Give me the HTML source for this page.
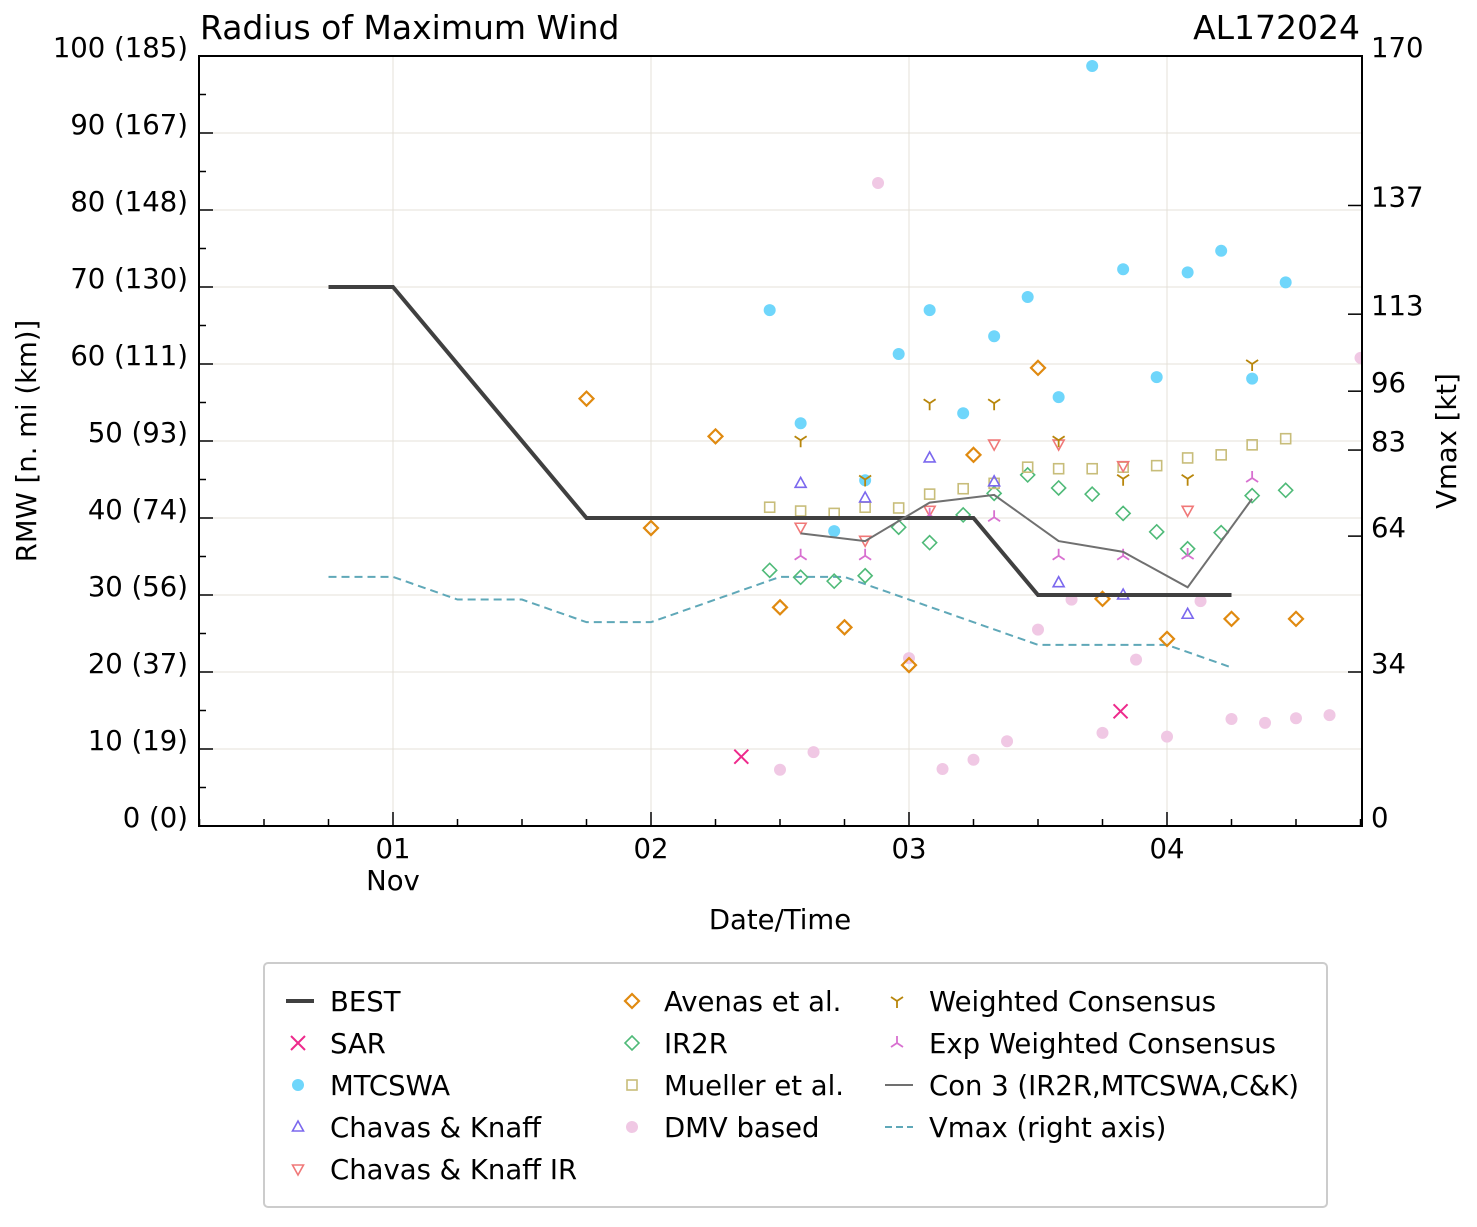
<!DOCTYPE html>
<html><head><meta charset="utf-8"><style>
body{margin:0;background:#fff;}
svg text{font-family:"DejaVu Sans","Liberation Sans",sans-serif;fill:#000;}
</style></head><body>
<svg id="c" width="1477" height="1222" xmlns="http://www.w3.org/2000/svg"></svg>
<script>
const bestT=[-0.25,0,0.75,2.25,2.5,3.25];
const bestV=[70,70,40,40,30,30];
const vmaxT=[-0.25,0,0.25,0.5,0.75,1,1.25,1.5,1.75,2,2.25,2.5,2.75,3,3.25];
const vmaxV=[55,55,50,50,45,45,50,55,55,50,45,40,40,40,35];
const con3T=[1.58,1.83,2.08,2.33,2.58,2.83,3.08,3.33];
const con3V=[38,37,42,43,37,35.6,31,42.5];
const mtcT=[1.46,1.58,1.71,1.83,1.96,2.08,2.21,2.33,2.46,2.58,2.71,2.83,2.96,3.08,3.21,3.33,3.46];
const mtcV=[67,52.3,38.3,44.9,61.3,67,53.6,63.6,68.7,55.7,98.7,72.3,58.3,71.9,74.7,58.1,70.6];
const sarT=[1.35,2.82];
const sarV=[9,14.9];
const aveT=[0.75,1,1.25,1.5,1.75,2,2.25,2.5,2.75,3,3.25,3.5];
const aveV=[55.5,38.7,50.6,28.4,25.8,20.9,48.2,59.5,29.5,24.3,26.9,26.9];
const ir2T=[1.46,1.58,1.71,1.83,1.96,2.08,2.21,2.33,2.46,2.58,2.71,2.83,2.96,3.08,3.21,3.33,3.46];
const ir2V=[33.2,32.3,31.8,32.5,38.8,36.8,40.4,43.2,45.6,43.9,43.1,40.6,38.2,36,38.1,42.9,43.6];
const mueV=[41.4,40.9,40.6,41.4,41.3,43.1,43.8,44.5,46.6,46.4,46.4,46.6,46.8,47.8,48.2,49.5,50.3];
const dmvT=[1.5,1.63,1.88,2,2.13,2.25,2.38,2.5,2.63,2.75,2.88,3,3.13,3.25,3.38,3.5,3.63,3.75];
const dmvV=[7.3,9.6,83.5,21.8,7.4,8.6,11,25.5,29.4,12.1,21.6,11.6,29.2,13.9,13.4,14,14.4,60.8];
const ckT=[1.58,1.83,2.08,2.33,2.58,2.83,3.08];
const ckV=[44.5,42.6,47.8,44.7,31.6,30,27.5];
const ckirV=[38.8,37.1,41,49.6,49.6,46.8,41];
const wcT=[1.58,1.83,2.08,2.33,2.58,2.83,3.08,3.33];
const wcV=[50.1,45,54.9,54.9,50.1,45.1,45.1,60];
const ewcV=[35.1,35.1,40.4,40.1,35.1,35.1,35.2,45.2];
const dayLabels=["01","02","03","04"];
const vmaxTicks=[0,34,64,83,96,113,137,170];

const L=199,R=1362,T=56,B=826;
const FS=27.5;
const X=t=>393+t*258;
const Y=v=>B-v*(B-T)/100;
const YV=v=>B-v*(B-T)/170;
const svg=document.getElementById('c');
const NS='http://www.w3.org/2000/svg';
function el(tag,attrs,parent){const e=document.createElementNS(NS,tag);for(const k in attrs)e.setAttribute(k,attrs[k]);(parent||svg).appendChild(e);return e;}
function txt(s,x,y,anchor,size,parent){const e=el('text',{x:x,y:y,'text-anchor':anchor,'font-size':size},parent);e.textContent=s;return e;}

const grid=el('g',{});


for(let v=10;v<100;v+=10)el('line',{x1:L,x2:R,y1:Y(v),y2:Y(v),stroke:'#e4e0d8','stroke-width':1},grid);
for(let d=0;d<4;d++)el('line',{x1:X(d),x2:X(d),y1:T,y2:B,stroke:'#e4e0d8','stroke-width':1},grid);

const ax=el('g',{stroke:'#000','stroke-width':1.5});


for(let v=0;v<=100;v+=5){const maj=v%10==0;el('line',{x1:L,x2:L+(maj?14:7),y1:Y(v),y2:Y(v)},ax);}
for(let t=-0.75;t<=3.76;t+=0.25){const maj=Math.abs(t-Math.round(t))<0.01;el('line',{x1:X(t),x2:X(t),y1:B,y2:B-(maj?14:7)},ax);}
vmaxTicks.forEach(v=>el('line',{x1:R,x2:R-14,y1:YV(v),y2:YV(v)},ax));

for(let v=0;v<=100;v+=10){const km=Math.round(v*1.852);const e=txt(v+' ('+km+')',188,Y(v)+1,'end',FS);}
dayLabels.forEach((s,i)=>{const e=txt(s,X(i),858,'middle',FS);});
{const e=txt('Nov',X(0),890,'middle',FS);}
vmaxTicks.forEach(v=>{const e=txt(String(v),1371,YV(v)+1,'start',FS);});
{const e=txt('Radius of Maximum Wind',200,39,'start',33);}
{const e=txt('AL172024',1360,39,'end',33);}
{const e=txt('Date/Time',780,929,'middle',FS);}
{const e=txt('RMW [n. mi (km)]',0,0,'middle',FS);e.setAttribute('transform','translate(36,441) rotate(-90)');}
{const e=txt('Vmax [kt]',0,0,'middle',FS);e.setAttribute('transform','translate(1456,441) rotate(-90)');}

function marker(type,x,y,g){
  const c={sar:'#ee2a8c',mtc:'#6fd6fb',ave:'#e08a10',ir2:'#4fba78',mue:'#c8bd7a',dmv:'#f0c8e4',ck:'#7b68ee',ckir:'#f07878',wc:'#b8860b',ewc:'#d870d0'}[type];
  const a={fill:'none',stroke:c,'stroke-width':1.6};
  if(type=='mtc'||type=='dmv'){el('circle',{cx:x,cy:y,r:6,fill:c},g);}
  else if(type=='sar'){el('path',{d:`M${x-7} ${y-7}L${x+7} ${y+7}M${x-7} ${y+7}L${x+7} ${y-7}`,stroke:c,'stroke-width':2},g);}
  else if(type=='ave'||type=='ir2'){el('path',Object.assign({d:`M${x} ${y-7}L${x+7} ${y}L${x} ${y+7}L${x-7} ${y}Z`},a,{'stroke-width':type=='ave'?2.2:1.6}),g);}
  else if(type=='mue'){el('rect',Object.assign({x:x-5,y:y-5,width:10,height:10},a),g);}
  else if(type=='ck'){el('path',Object.assign({d:`M${x} ${y-6}L${x+5.5} ${y+4}L${x-5.5} ${y+4}Z`},a),g);}
  else if(type=='ckir'){el('path',Object.assign({d:`M${x} ${y+6}L${x+5.5} ${y-4}L${x-5.5} ${y-4}Z`},a),g);}
  else if(type=='wc'){el('path',{d:`M${x} ${y}L${x} ${y+7}M${x} ${y}L${x-6} ${y-4}M${x} ${y}L${x+6} ${y-4}`,stroke:c,'stroke-width':1.8,fill:'none'},g);}
  else if(type=='ewc'){el('path',{d:`M${x} ${y}L${x} ${y-7}M${x} ${y}L${x-6} ${y+4}M${x} ${y}L${x+6} ${y+4}`,stroke:c,'stroke-width':1.8,fill:'none'},g);}
}
const clip=el('clipPath',{id:'pc'});el('rect',{x:L,y:T,width:R-L,height:B-T},clip);
const plot=el('g',{'clip-path':'url(#pc)'});


function series(name,type,ts,vs){const g=el('g',{},plot);ts.forEach((t,i)=>marker(type,X(t),Y(vs[i]),g));}
function line(name,ts,vs,yf,attrs){const p=el('polyline',Object.assign({points:ts.map((t,i)=>X(t)+','+yf(vs[i])).join(' '),fill:'none'},attrs),plot);}
line('vmax-line',vmaxT,vmaxV,YV,{stroke:'#5fa8b8','stroke-width':2,'stroke-dasharray':'8,5'});
series('ir2r-series','ir2',ir2T,ir2V);
series('mueller-series','mue',ir2T,mueV);
series('dmv-series','dmv',dmvT,dmvV);
series('mtcswa-series','mtc',mtcT,mtcV);
series('ck-series','ck',ckT,ckV);
series('ckir-series','ckir',ckT,ckirV);
series('wc-series','wc',wcT,wcV);
series('ewc-series','ewc',wcT,ewcV);
series('avenas-series','ave',aveT,aveV);
series('sar-series','sar',sarT,sarV);
line('best-line',bestT,bestV,Y,{stroke:'#404040','stroke-width':4});
line('con3-line',con3T,con3V,Y,{stroke:'#707070','stroke-width':2});
const frame=el('rect',{x:L,y:T,width:R-L,height:B-T,fill:'none',stroke:'#000','stroke-width':2});


const lg=el('g',{});


el('rect',{x:264,y:963,width:1063,height:244,rx:4,fill:'#fff',stroke:'#ccc','stroke-width':2},lg);
const items=[
 [298,1001,'BEST','best'],[298,1043,'SAR','sar'],[298,1085,'MTCSWA','mtc'],[298,1127,'Chavas & Knaff','ck'],[298,1169,'Chavas & Knaff IR','ckir'],
 [632,1001,'Avenas et al.','ave'],[632,1043,'IR2R','ir2'],[632,1085,'Mueller et al.','mue'],[632,1127,'DMV based','dmv'],
 [897,1001,'Weighted Consensus','wc'],[897,1043,'Exp Weighted Consensus','ewc'],[897,1085,'Con 3 (IR2R,MTCSWA,C&K)','con3'],[897,1127,'Vmax (right axis)','vmax']];
items.forEach(([x,y,label,type])=>{
  const g=el('g',{},lg);
  
  
  if(type=='best')el('line',{x1:x-12,x2:x+16,y1:y,y2:y,stroke:'#404040','stroke-width':4},g);
  else if(type=='con3')el('line',{x1:x-12,x2:x+16,y1:y,y2:y,stroke:'#707070','stroke-width':2},g);
  else if(type=='vmax')el('line',{x1:x-12,x2:x+16,y1:y,y2:y,stroke:'#5fa8b8','stroke-width':2,'stroke-dasharray':'7,4'},g);
  else marker(type,x,y,g);
  txt(label,x+32,y+10,'start',FS,g);
});
</script>
</body></html>
